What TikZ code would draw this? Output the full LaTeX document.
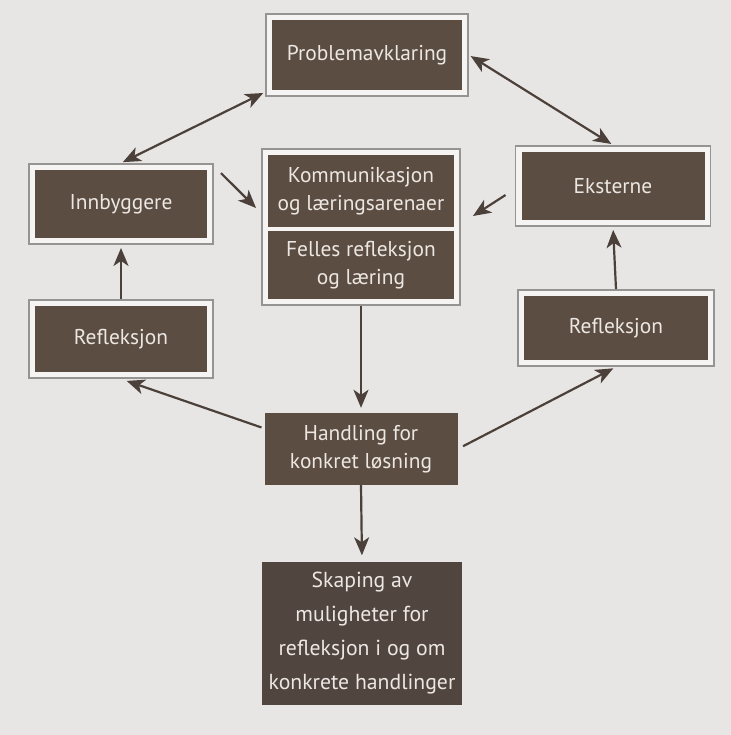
\documentclass[tikz,border=0pt]{standalone}
\usepackage{fontspec}
\setmainfont{PT Sans}
\usetikzlibrary{arrows.meta, positioning, calc, fit, backgrounds}
\definecolor{boxbrown}{RGB}{92,77,66}
\definecolor{boxdark}{RGB}{80,69,63}
\definecolor{arrowgray}{RGB}{76,65,58}
\definecolor{framegray}{RGB}{150,148,146}
\definecolor{framefill}{RGB}{245,244,242}
\definecolor{pagebg}{RGB}{232,230,228}
\definecolor{boxtext}{RGB}{236,231,226}
\tikzset{
  box/.style={fill=boxbrown, rectangle, align=center, text=boxtext, font=\fontsize{21.5}{28}\selectfont, inner sep=0pt},
  frame/.style={draw=framegray, line width=1.5bp, fill=framefill, inner sep=6bp},
  arrow/.style={draw=arrowgray, line width=2.2bp, -{Stealth[length=18bp, width=15bp, inset=5bp]}},
  dblarrow/.style={draw=arrowgray, line width=2.2bp, {Stealth[length=18bp, width=15bp, inset=5bp]}-{Stealth[length=18bp, width=15bp, inset=5bp]}}
}

\begin{document}
\begin{tikzpicture}[x=1bp, y=-1bp]
  \node [box, minimum width=190bp, minimum height=70bp] (prob) at (367,55) {Problemavklaring};
  \node [box, minimum width=172bp, minimum height=68bp] (innb) at (121,204) {Innbyggere};
  \node [box, minimum width=186bp, minimum height=72bp] (komm) at (361,191) {Kommunikasjon\\og læringsarenaer};
  \node [box, minimum width=186bp, minimum height=68bp] (felles) at (361,265) {Felles refleksjon\\og læring};
  \node [box, minimum width=183bp, minimum height=68bp] (ekst) at (613,186) {Eksterne};
  \node [box, minimum width=172bp, minimum height=66bp] (refl1) at (121,339) {Refleksjon};
  \node [box, minimum width=184bp, minimum height=64bp] (refl2) at (616,328) {Refleksjon};
  \node [box, minimum width=193bp, minimum height=72bp] (handl) at (361,449) {Handling for\\konkret løsning};
  \node [box, fill=boxdark, font=\fontsize{21.8}{34}\selectfont, minimum width=200bp, minimum height=143bp] (skap) at (362,633) {Skaping av\\muligheter for\\refleksjon i og om\\konkrete handlinger};

  \begin{scope}[on background layer]
    \fill [pagebg] (0,0) rectangle (731,735);
    \node [frame, fit=(prob)] (probF) {};
    \node [frame, fit=(innb)] (innbF) {};
    \node [frame, fit=(komm)(felles)] (kommF) {};
    \node [frame, fit=(ekst)] (ekstF) {};
    \node [frame, fit=(refl1)] (refl1F) {};
    \node [frame, fit=(refl2)] (refl2F) {};
  \end{scope}
  \useasboundingbox (0,0) rectangle (731,735);

  \draw [dblarrow, shorten <=2bp, shorten >=2bp] (innbF.north) -- (probF.200);
  \draw [dblarrow, shorten <=2bp, shorten >=2bp] (probF.east) -- (ekstF.north);
  \draw [arrow] ($(innbF.north east)+(7,10)$) -- ($(kommF.west)+(-5,-19)$);
  \draw [arrow] ($(ekstF.west)+(-9,9)$) -- ($(kommF.east)+(12,-11)$);
  \draw [arrow, shorten >=3bp] (refl1F.north) -- (innbF.south);
  \draw [arrow, shorten >=3bp] (refl2F.north) -- (ekstF.south);
  \draw [arrow, shorten >=5bp] (kommF.south) -- (handl.north);
  \draw [arrow, shorten <=3bp, shorten >=6bp] (handl.168) -- (refl1F.south);
  \draw [arrow, shorten <=6bp, shorten >=3bp] (handl.east) -- (refl2F.south);
  \draw [arrow, shorten >=6bp] (handl.south) -- (skap.north);
\end{tikzpicture}
\end{document}
